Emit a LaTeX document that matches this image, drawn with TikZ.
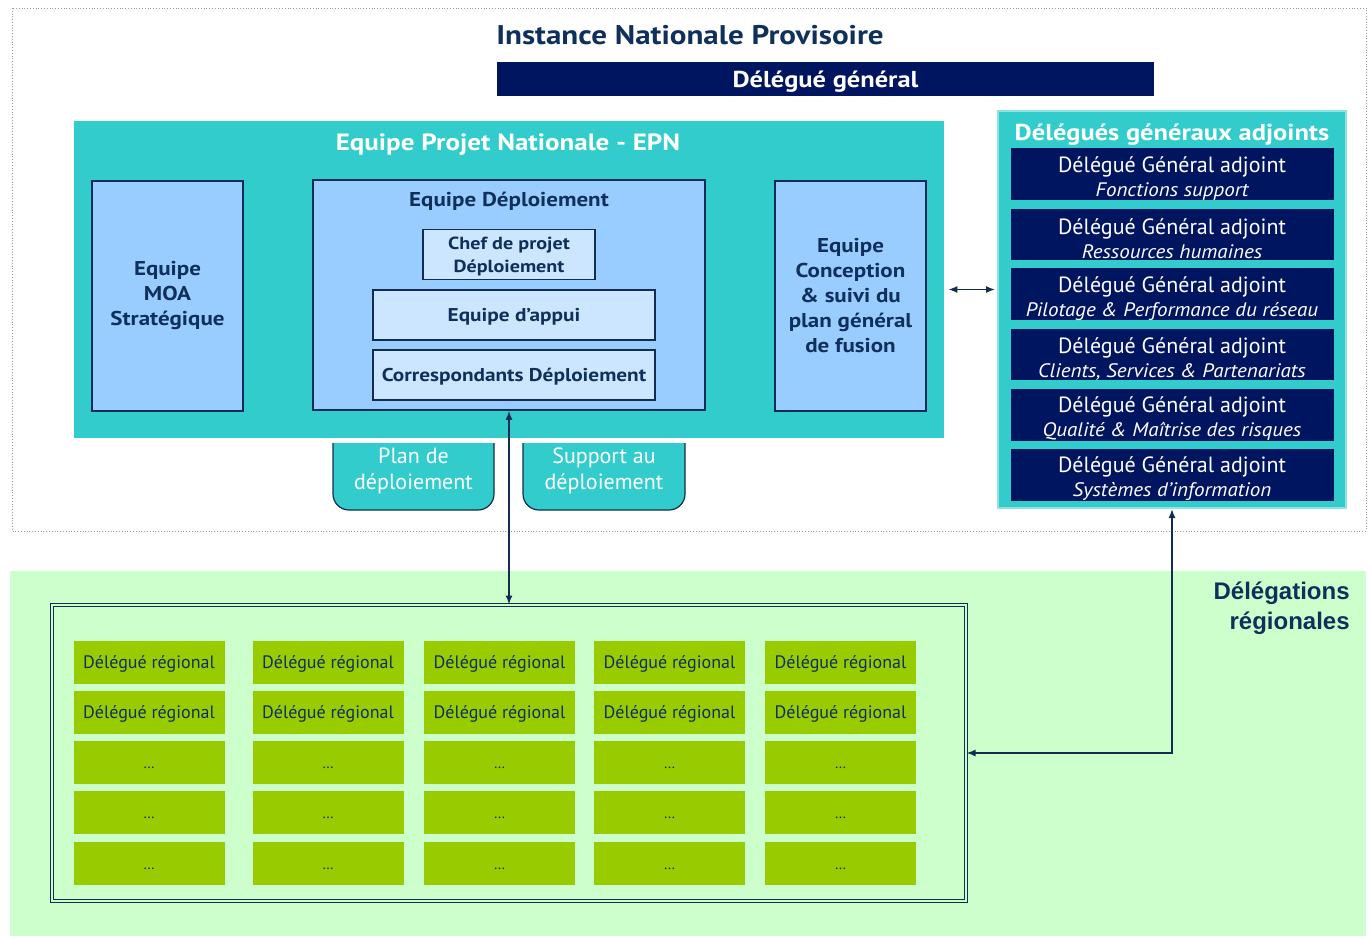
\documentclass[tikz,border=0pt]{standalone}
\usepackage{fontspec}
\setmainfont{PT Sans}[BoldFeatures={FakeStretch=1.15}, ItalicFeatures={FakeStretch=1.08}]
\newfontfamily\arialfont{Liberation Sans}
\usetikzlibrary{arrows.meta}
\definecolor{navy}{RGB}{0,21,96}
\definecolor{ink}{RGB}{16,48,92}
\definecolor{edge}{RGB}{18,44,84}
\definecolor{turq}{RGB}{51,204,204}
\definecolor{paleblue}{RGB}{153,204,255}
\definecolor{mistblue}{RGB}{204,230,255}
\definecolor{mint}{RGB}{204,255,204}
\definecolor{lime}{RGB}{153,204,0}
\newcommand{\fsz}[2]{\fontsize{#1}{#2}\selectfont}

\begin{document}
\begin{tikzpicture}[x=1pt, y=-1pt, thick, text=ink,
  blk/.style={draw=edge, fill=paleblue, line width=1.5pt, minimum width=151pt, minimum height=230pt, align=center, font=\fsz{20}{25}\bfseries},
  sub/.style={draw=edge, fill=mistblue, line width=1.5pt, minimum width=282pt, minimum height=50pt, align=center, font=\fsz{18.5}{23}\bfseries},
  dgabox/.style={fill=navy, text=white, minimum width=323pt, minimum height=51pt, inner sep=0pt, align=center, font=\fsz{22}{24}},
  cell/.style={fill=lime, minimum width=151pt, minimum height=43pt, inner sep=0pt, font=\fsz{18}{20}},
  tabtxt/.style={text=white, align=center, font=\fsz{22}{26}},
  link/.style={{Latex[length=9pt,width=7pt]}-{Latex[length=9pt,width=7pt]}, draw=edge, line width=1.5pt}]
\useasboundingbox (0,0) rectangle (1372,936);
%National level
\draw[draw={rgb,255:red,150;green,150;blue,180}, dotted, line width=0.8pt] (12,8) rectangle (1366,531);
\node[font=\fsz{27}{30}\bfseries] (inp) at (690,35) {Instance Nationale Provisoire};
\node[fill=navy, text=white, minimum width=657pt, minimum height=34pt, font=\fsz{23}{26}\bfseries] (dg) at (825.5,79) {\rule{0pt}{21pt}Délégué général};
%EPN
\node[fill=turq, minimum width=870pt, minimum height=317pt] (epn) at (509,279.5) {};
\node[text=white, font=\fsz{23.5}{26}\bfseries] (epntitle) at (508,145) {Equipe Projet Nationale - EPN};
\node[blk] (moa) at (167.5,296) {Equipe\\MOA\\Stratégique};
\node[blk, minimum width=392pt] (deploi) at (509,295) {};
\node[font=\fsz{20}{24}\bfseries] (deploititle) at (509,201.5) {Equipe Déploiement};
\node[sub, minimum width=172pt, minimum height=49pt, font=\fsz{17.5}{23}\bfseries] (chef) at (509,254.5) {\rule{0pt}{17pt}Chef de projet\\Déploiement};
\node[sub] (appui) at (514,315) {\rule{0pt}{17pt}Equipe d’appui};
\node[sub] (corresp) at (514,375) {\rule{0pt}{17pt}Correspondants Déploiement};
\node[blk] (concep) at (850.5,296) {Equipe\\Conception\\\& suivi du\\plan général\\de fusion};
%Tabs
\filldraw[fill=turq, draw=edge, line width=1.2pt] (333,443) [rounded corners=16pt] -- (333,510) -- (494,510) [sharp corners] -- (494,443);
\filldraw[fill=turq, draw=edge, line width=1.2pt] (523,443) [rounded corners=16pt] -- (523,510) -- (685,510) [sharp corners] -- (685,443);
\node[tabtxt] (plan) at (413.5,471) {Plan de\\déploiement};
\node[tabtxt] (support) at (604,471) {Support au\\déploiement};
%Deputies
\node[fill=turq, draw=turq!55!white, line width=2pt, minimum width=348pt, minimum height=397pt] (dga) at (1172,309.5) {};
\node[text=white, font=\fsz{23}{26}\bfseries] (dgatitle) at (1172,135) {Délégués généraux adjoints};
\foreach \t [count=\k] in {Fonctions support, Ressources humaines, Pilotage \& Performance du réseau, {Clients, Services \& Partenariats}, Qualité \& Maîtrise des risques, Systèmes d’information}
  \node[dgabox] (dga\k) at (1172,{174+60.2*(\k-1)}) {\rule{0pt}{24pt}Délégué Général adjoint\\{\fsz{19.5}{24}\itshape \t}};
%Regional level
\fill[mint] (10,571) rectangle (1366,936);
\node[anchor=north east, align=right, inner sep=0pt, font=\arialfont\bfseries\fsz{24}{30}] (dreg) at (1350,581) {Délégations\\régionales};
\node[draw=edge, double=mint, double distance=2pt, line width=1pt, minimum width=914pt, minimum height=296pt] (regions) at (509,753) {};
\foreach \c [count=\i] in {149,328,499.5,669.5,840.5}
  \foreach \r [count=\j] in {662.5,712.5,762.5,812.5,863.5}
    \node[cell] (r\i\j) at (\c,\r) {\ifnum\j<3 \rule{0pt}{15pt}Délégué régional\else{\fsz{15}{15}\rule{0pt}{13pt}…}\fi};
%Links
\coordinate (mid) at ([yshift=-10pt]epn.east);
\draw[link, shorten <=4pt, shorten >=2pt] (mid) -- (mid -| dga.west);
\draw[link] (deploi.south) -- (regions.north);
\draw[link] (dga.south) |- (regions.east);
\end{tikzpicture}
\end{document}
